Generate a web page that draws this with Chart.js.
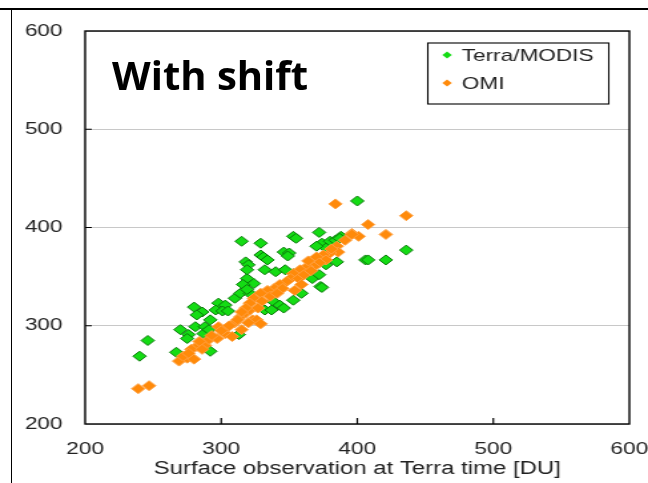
<!DOCTYPE html>
<html><head><meta charset="utf-8">
<script src="https://cdn.jsdelivr.net/npm/chart.js@4"></script>
<style>
html,body{margin:0;padding:0;background:#fff;width:648px;height:483px;overflow:hidden;}
#wrap{position:absolute;left:0;top:0;width:487px;height:483px;transform:scaleX(1.3306);transform-origin:0 0;}
#title{position:absolute;left:112px;top:54px;font-family:"Open Sans";font-weight:bold;font-size:40px;line-height:41px;color:#000;white-space:nowrap;}
.hl{position:absolute;background:#000;}
</style></head><body>
<div class="hl" style="left:0;top:8px;width:648px;height:1.5px"></div>
<div class="hl" style="left:10.5px;top:8px;width:1.5px;height:475px"></div>
<div id="wrap"><canvas id="c" width="487" height="483"></canvas></div>
<div id="title">With shift</div>
<script>
// ---- data ----
const seriesNames = ['Terra/MODIS', 'OMI'];
const xAxisTitle = 'Surface observation at Terra time [DU]';
const axisTicks = [200, 300, 400, 500, 600];

const terraX = [240,246,267,270,276,275,280,286,282,281,288,287,292,291,298,303,296,301,305,310,314,319,321,313,292,
  372,388,406,353,329,346,350,329,331,374,380,377,370,384,318,320,332,340,347,353,319,324,316,367,373,359,353,338,343,332,337,346,385,377,
  400,436,408,421,315,355,387,349,362,372,374,319,334,319];
const terraY = [269,285,273,296,291,287,319,314,311,299,299,292,306,296,323,321,316,315,315,328,333,344,333,291,274,
  395,391,367,391,384,375,374,372,370,384,386,379,381,387,365,362,357,355,357,353,348,343,342,348,340,333,326,325,321,316,316,318,365,362,
  427,377,367,367,386,389,389,371,357,352,339,357,367,337];

const omiX = [239,247,269,275,280,272,
  282,288,291,297,303,298,305,310,314,318,321,323,315,308,
  396,401,391,385,386,380,375,370,377,372,368,363,358,353,351,357,348,343,339,334,329,324,321,318,315,326,320,359,354,
  384,436,408,421,396,
  284,293,300,306,312,330,336,345,361,366,278,286,327,341,364,381,276,329];
const omiY = [236,239,264,267,266,269,
  279,280,286,287,292,299,299,303,309,313,316,306,296,289,
  394,391,387,381,375,374,372,370,367,364,360,360,357,353,348,348,345,342,338,336,333,328,323,318,314,306,303,342,336,
  424,412,403,393,393,
  284,290,295,300,306,325,330,338,352,356,276,276,318,333,366,378,272,302];

const terraPts = terraX.map((x, i) => ({x: x, y: terraY[i]}));
const omiPts = omiX.map((x, i) => ({x: x, y: omiY[i]}));

const frameAndTicks = {
  id: 'frameAndTicks',
  afterDraw(chart) {
    const ctx = chart.ctx, ca = chart.chartArea;
    const xs = chart.scales.x, ys = chart.scales.y;
    ctx.save();
    ctx.strokeStyle = '#000';
    ctx.lineWidth = 1.4;
    ctx.strokeRect(ca.left, ca.top, ca.right - ca.left, ca.bottom - ca.top);
    ctx.lineWidth = 1.2;
    ctx.beginPath();
    xs.ticks.forEach(t => {
      if (t.value > xs.min && t.value < xs.max) {
        const p = xs.getPixelForValue(t.value);
        ctx.moveTo(p, ca.bottom); ctx.lineTo(p, ca.bottom - 6);
      }
    });
    ys.ticks.forEach(t => {
      if (t.value > ys.min && t.value < ys.max) {
        const p = ys.getPixelForValue(t.value);
        ctx.moveTo(ca.left, p); ctx.lineTo(ca.left + 5, p);
      }
    });
    ctx.stroke();
    // legend box
    const bx = 321.5, by = 43, bw = 136, bh = 61;
    ctx.lineWidth = 1.1;
    ctx.strokeStyle = '#000';
    ctx.strokeRect(bx, by, bw, bh);
    ctx.font = '17px "Liberation Sans", Arial, sans-serif';
    ctx.textBaseline = 'middle';
    ctx.textAlign = 'left';
    chart.data.datasets.forEach((ds, i) => {
      const cy = 55 + i * 28, cx = 336, r = 3.6;
      ctx.beginPath();
      ctx.moveTo(cx, cy - r); ctx.lineTo(cx + r, cy); ctx.lineTo(cx, cy + r); ctx.lineTo(cx - r, cy); ctx.closePath();
      ctx.fillStyle = ds.backgroundColor; ctx.fill();
      ctx.fillStyle = '#222';
      ctx.fillText(ds.label, 347, cy + 1);
    });
    ctx.restore();
  }
};

const tickFont = {family: '"Liberation Sans", Arial, sans-serif', size: 17};

new Chart(document.getElementById('c'), {
  type: 'scatter',
  data: {
    datasets: [
      {label: seriesNames[0], data: terraPts, pointStyle: 'rectRot', pointRadius: 5,
       backgroundColor: '#14dc14', borderColor: '#0a7a0a', borderWidth: 1, order: 1},
      {label: seriesNames[1], data: omiPts, pointStyle: 'rectRot', pointRadius: 5,
       backgroundColor: '#ff8a0a', borderColor: '#ffa040', borderWidth: 1, order: 0}
    ]
  },
  options: {
    responsive: false,
    animation: false,
    layout: {padding: {top: 31, right: 0, left: 0, bottom: 0}},
    plugins: {legend: {display: false}, tooltip: {enabled: false}},
    scales: {
      x: {
        type: 'linear', min: axisTicks[0], max: axisTicks[axisTicks.length - 1],
        afterBuildTicks: s => { s.ticks = axisTicks.map(v => ({value: v})); },
        ticks: {font: tickFont, color: '#222', padding: 15, maxRotation: 0, autoSkip: false},
        grid: {display: false, drawTicks: false},
        border: {display: false},
        title: {display: true, text: xAxisTitle, color: '#222',
                font: {family: '"Liberation Sans", Arial, sans-serif', size: 18}, padding: {top: 0, bottom: 3}},
        afterFit: s => { s.height = 59; s.paddingRight = 14; s.paddingLeft = 0; }
      },
      y: {
        type: 'linear', min: axisTicks[0], max: axisTicks[axisTicks.length - 1],
        afterBuildTicks: s => { s.ticks = axisTicks.map(v => ({value: v})); },
        ticks: {font: tickFont, color: '#222', padding: 17, autoSkip: false},
        grid: {color: '#c8c8c8', lineWidth: 1, drawTicks: false},
        border: {display: false},
        afterFit: s => { s.width = 64; }
      }
    }
  },
  plugins: [frameAndTicks]
});
</script>
</body></html>
